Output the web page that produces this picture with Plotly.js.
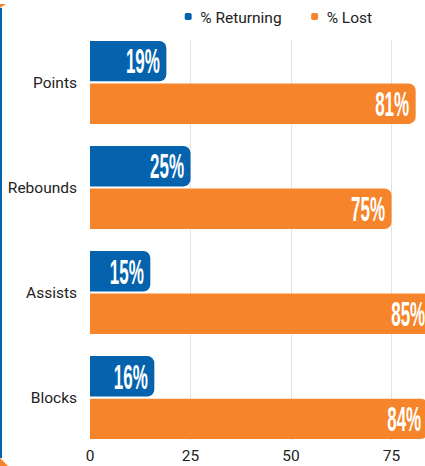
<!DOCTYPE html>
<html>
<head>
<meta charset="utf-8">
<script src="https://cdn.plot.ly/plotly-3.0.1.min.js"></script>
<style>
  html, body { margin: 0; padding: 0; background: #fff; overflow: hidden; width: 425px; height: 466px; }
  #wrap { position: relative; width: 425px; height: 466px; overflow: hidden; }
  #chart { position: absolute; left: 0; top: 0; width: 445px; height: 466px; }
  .edge { position: absolute; left: 0; top: 8px; width: 2px; height: 450px; background: #0563ad; z-index: 5; }
  .cornerTop { position: absolute; left: 0; top: 4px; width: 0; height: 0; border-top: 4px solid #f5842a; border-right: 6px solid transparent; z-index: 5; }
  .cornerBot { position: absolute; left: 0; top: 458px; width: 0; height: 0; border-bottom: 8px solid #f5842a; border-right: 8px solid transparent; z-index: 5; }
</style>
</head>
<body>
<div id="wrap">
  <div id="chart"></div>
  <div class="edge"></div>
  <div class="cornerTop"></div>
  <div class="cornerBot"></div>
</div>
<script>
const categories = ['Points', 'Rebounds', 'Assists', 'Blocks'];
const returningPct = [19, 25, 15, 16];
const lostPct = [81, 75, 85, 84];
const xTicks = [0, 25, 50, 75];

const BLUE = '#0563ad';
const ORANGE = '#f5842a';
const LABEL_FONT = { family: 'Roboto, sans-serif', size: 15.5, color: '#222222' };
const barText = { family: 'Liberation Sans, Arial, sans-serif', size: 24, color: '#ffffff', weight: 'bold' };

function barTrace(name, values, color) {
  return {
    type: 'bar', orientation: 'h', name: name,
    y: categories, x: values,
    marker: { color: color },
    texttemplate: '%{x}%', textposition: 'inside', insidetextanchor: 'end',
    insidetextfont: barText, constraintext: 'none',
    hoverinfo: 'skip'
  };
}

const traces = [
  barTrace('% Returning', returningPct, BLUE),
  barTrace('% Lost', lostPct, ORANGE)
];

const layout = {
  width: 445, height: 466,
  margin: { l: 90, r: 0, t: 40, b: 26, pad: 0 },
  paper_bgcolor: '#ffffff', plot_bgcolor: '#ffffff',
  font: LABEL_FONT,
  barmode: 'group', bargap: 0.19, bargroupgap: 0.05, barcornerradius: 7,
  showlegend: true,
  legend: {
    orientation: 'h', xref: 'container', yref: 'container',
    x: 0.36, y: 1, xanchor: 'left', yanchor: 'top',
    font: LABEL_FONT,
    bgcolor: 'rgba(0,0,0,0)'
  },
  xaxis: {
    range: [0, 88.3], tickvals: xTicks, ticktext: xTicks.map(String),
    showgrid: true, gridcolor: '#e3e3e3', gridwidth: 1,
    zeroline: false, showline: false, ticks: '',
    ticklabelstandoff: 4,
    tickfont: LABEL_FONT,
    fixedrange: true
  },
  yaxis: {
    type: 'category', categoryorder: 'array', categoryarray: categories,
    range: [3.404, -0.404],
    showgrid: false, zeroline: false, showline: false, ticks: '',
    ticklabelstandoff: 12,
    tickfont: LABEL_FONT,
    fixedrange: true
  }
};

const TEXT_BOX_H = 39;     // glyph box height so capitals are ~25px tall
const NARROW = 0.49;       // horizontal squeeze relative to vertical scale
Plotly.newPlot('chart', traces, layout, { staticPlot: true, displayModeBar: false }).then(function (gd) {
  const svg = gd.querySelector('svg.main-svg');
  gd.querySelectorAll('text.bartext').forEach(function (t) {
    const rect = t.getBoundingClientRect();
    const inv = t.parentNode.getScreenCTM().inverse();
    const pt = svg.createSVGPoint();
    pt.x = rect.right - 3.5; pt.y = rect.top + rect.height / 2;
    const p = pt.matrixTransform(inv);
    const bb = t.getBBox();
    const sy = TEXT_BOX_H / bb.height;
    const sx = sy * NARROW;
    const w = bb.width * sx;
    t.setAttribute('transform',
      'translate(' + (p.x - w) + ',' + (p.y - TEXT_BOX_H / 2) + ') scale(' + sx + ',' + sy + ') translate(' + (-bb.x) + ',' + (-bb.y) + ')');
  });
  gd.querySelectorAll('.legendpoints path').forEach(function (p) {
    const old = p.getAttribute('transform') || '';
    p.setAttribute('transform', old + ' translate(8,0) scale(0.58)');
  });
});
</script>
</body>
</html>
